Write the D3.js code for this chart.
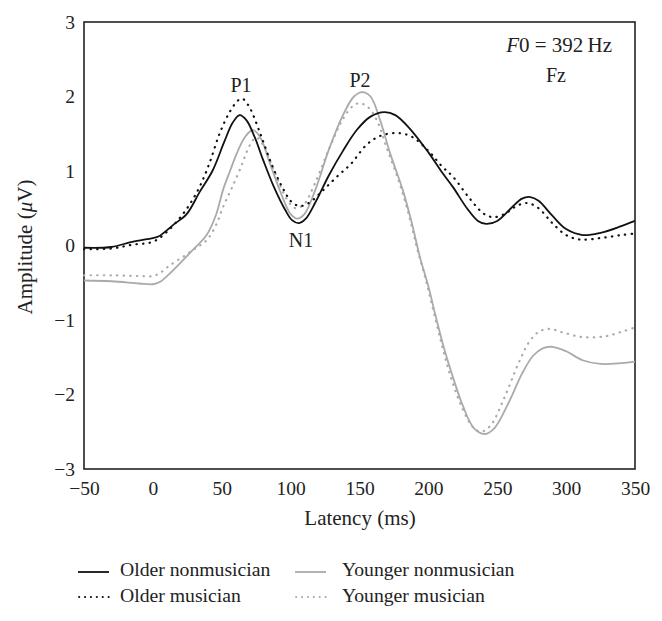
<!DOCTYPE html>
<html><head><meta charset="utf-8">
<script src="https://cdn.jsdelivr.net/npm/d3@7/dist/d3.min.js"></script>
<style>body{margin:0;background:#fff}svg text{font-family:"Liberation Serif","DejaVu Serif",serif;fill:#222}</style>
</head><body><svg id="c" width="662" height="621" font-family="Liberation Serif"></svg>
<script>
const xTicks = [-50, 0, 50, 100, 150, 200, 250, 300, 350];
const yTicks = [-3, -2, -1, 0, 1, 2, 3];
const seriesNames = ["Older nonmusician", "Older musician", "Younger nonmusician", "Younger musician"];
const olderNon = [[-50,-0.03],[-30,-0.02],[-15,0.05],[0,0.1],[4,0.12],[15,0.28],[24.5,0.42],[34,0.72],[43.5,1.01],[52,1.4],[58,1.65],[63,1.75],[68,1.68],[74,1.45],[80,1.15],[88,0.78],[96,0.48],[101,0.34],[106,0.3],[111,0.36],[118,0.58],[128,0.95],[138,1.27],[148,1.55],[158,1.73],[168,1.79],[176,1.75],[186,1.58],[200,1.25],[210,0.98],[218,0.78],[228,0.5],[236,0.33],[242,0.29],[250,0.33],[260,0.5],[268,0.63],[274,0.65],[280,0.6],[290,0.4],[300,0.22],[312,0.14],[325,0.17],[340,0.26],[350,0.33]];
const olderMus = [[-50,-0.05],[-30,-0.04],[-15,0.01],[0,0.05],[10,0.18],[20,0.38],[27,0.56],[34,0.79],[41,1.1],[48.6,1.51],[56,1.8],[62,1.95],[65,1.97],[70,1.86],[78,1.5],[86,1.1],[94,0.78],[101,0.58],[107,0.53],[114,0.58],[124,0.75],[134,0.93],[144,1.1],[155,1.35],[165,1.47],[177,1.51],[188,1.46],[200,1.27],[210,1.06],[218,0.92],[230,0.63],[240,0.43],[247,0.38],[255,0.42],[264,0.53],[272,0.57],[280,0.5],[290,0.3],[300,0.14],[310,0.08],[325,0.1],[340,0.14],[350,0.16]];
const youngNon = [[-50,-0.47],[-30,-0.48],[-10,-0.51],[0,-0.52],[5,-0.49],[12,-0.38],[19.6,-0.24],[29,-0.06],[39,0.14],[46,0.42],[51,0.75],[56,1.0],[61,1.24],[67,1.46],[72.6,1.55],[78,1.45],[85,1.1],[93,0.7],[100,0.42],[105,0.36],[110,0.42],[118,0.75],[128,1.3],[138,1.75],[146,2.0],[152,2.06],[158,2.0],[165,1.68],[172,1.25],[181.5,0.74],[188,0.3],[193.8,-0.15],[200,-0.55],[206,-1.0],[212,-1.42],[217,-1.72],[225,-2.15],[233,-2.45],[241,-2.53],[248,-2.45],[258,-2.12],[268,-1.72],[276,-1.48],[283,-1.38],[290,-1.36],[300,-1.42],[312,-1.54],[325,-1.59],[340,-1.58],[350,-1.56]];
const youngMus = [[-50,-0.4],[-30,-0.4],[-10,-0.41],[0,-0.41],[5,-0.37],[12,-0.27],[22,-0.15],[30,-0.05],[39,0.07],[46,0.28],[51,0.52],[57,0.76],[63,1.01],[70.5,1.35],[75,1.45],[80,1.35],[87,1.05],[95,0.7],[100,0.55],[104,0.5],[110,0.56],[118,0.85],[128,1.3],[138,1.7],[145,1.87],[150,1.91],[156,1.86],[162.6,1.68],[170,1.3],[179,0.84],[186,0.4],[192,-0.05],[198,-0.45],[204,-0.9],[210,-1.35],[216,-1.75],[225,-2.2],[232,-2.43],[238,-2.5],[245,-2.42],[255,-2.05],[265,-1.6],[273,-1.3],[280,-1.16],[288,-1.12],[298,-1.17],[312,-1.23],[328,-1.22],[340,-1.16],[350,-1.1]];

const FONT = '"Liberation Serif","DejaVu Serif",serif';
const svg = d3.select("#c");
const L = 84, T = 22, R = 635, B = 469;
const x = d3.scaleLinear().domain([-50, 350]).range([L, R]);
const y = d3.scaleLinear().domain([-3, 3]).range([B, T]);
const fmt = d => d < 0 ? "\u2212" + Math.abs(d) : d;

const xa = svg.append("g").attr("transform", `translate(0,${B})`)
  .call(d3.axisBottom(x).tickValues(xTicks).tickSize(0).tickPadding(12).tickFormat(fmt));
xa.attr("font-family", FONT).attr("font-size", 19.5);
xa.select(".domain").remove();
xa.selectAll("text").attr("fill", "#222");
const ya = svg.append("g").attr("transform", `translate(${L},0)`)
  .call(d3.axisLeft(y).tickValues(yTicks).tickSize(0).tickPadding(9).tickFormat(fmt));
ya.attr("font-family", FONT).attr("font-size", 19.5);
ya.select(".domain").remove();
ya.selectAll("text").attr("fill", "#222");

svg.append("rect").attr("x", L).attr("y", T).attr("width", R - L).attr("height", B - T)
  .attr("fill", "none").attr("stroke", "#222").attr("stroke-width", 1.6);

const line = d3.line().x(d => x(d[0])).y(d => y(d[1])).curve(d3.curveCatmullRom.alpha(0.5));
const styles = [
  {data: olderNon, stroke: "#111", dash: null, w: 1.8},
  {data: olderMus, stroke: "#111", dash: "0.4,6.2", w: 2.2},
  {data: youngNon, stroke: "#aaa", dash: null, w: 1.8},
  {data: youngMus, stroke: "#aaa", dash: "0.4,6.2", w: 2.2}
];
[2, 3, 0, 1].forEach(i => {
  const s = styles[i];
  svg.append("path").datum(s.data).attr("d", line).attr("fill", "none")
    .attr("stroke", s.stroke).attr("stroke-width", s.w)
    .attr("stroke-dasharray", s.dash).attr("stroke-linecap", s.dash ? "round" : "butt");
});

function txt(xp, yp, s, size, anchor) {
  return svg.append("text").attr("x", xp).attr("y", yp).attr("text-anchor", anchor || "middle")
    .attr("font-size", size).attr("font-family", FONT).text(s);
}
txt(241, 92, "P1", 20);
txt(360, 87, "P2", 20);
txt(301, 247, "N1", 20);

const f = svg.append("text").attr("x", 612).attr("y", 52).attr("text-anchor", "end").attr("font-size", 21).attr("font-family", FONT);
f.append("tspan").attr("font-style", "italic").text("F");
f.append("tspan").text("0 = 392\u2009Hz");
txt(556, 82, "Fz", 20);

svg.append("text").attr("transform", `translate(32,247) rotate(-90)`).attr("text-anchor", "middle")
  .attr("font-size", 21).attr("font-family", FONT).html('Amplitude (<tspan font-style="italic">\u03bc</tspan>V)');
txt(360, 525, "Latency (ms)", 21);

const legPos = [[78, 572, 576], [78, 597, 602], [295, 572, 576], [295, 597, 602]];
styles.forEach((s, i) => {
  const [lx, ly, tb] = legPos[i];
  svg.append("line").attr("x1", lx + (s.dash ? 1 : 0)).attr("x2", lx + 31).attr("y1", ly).attr("y2", ly)
    .attr("stroke", s.stroke).attr("stroke-width", s.dash ? 1.8 : 1.8).attr("stroke-dasharray", s.dash ? "0.3,5.6" : null)
    .attr("stroke-linecap", s.dash ? "round" : "butt");
  txt(i >= 2 ? 342 : 120, tb, seriesNames[i], 19.7, "start");
});
</script></body></html>
